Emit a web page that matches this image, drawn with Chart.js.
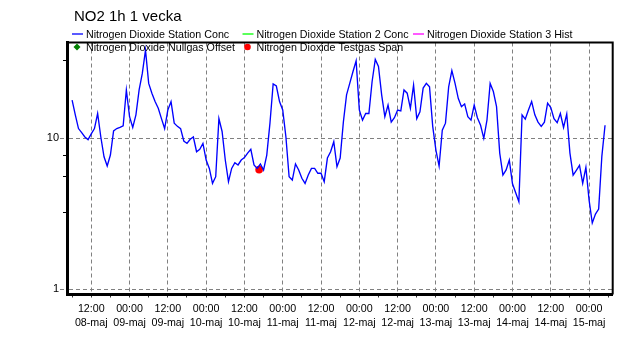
<!DOCTYPE html>
<html>
<head>
<meta charset="utf-8">
<title>NO2 1h 1 vecka</title>
<script src="https://cdn.jsdelivr.net/npm/chart.js@4.4.0/dist/chart.umd.min.js"></script>
<style>
  html, body { margin: 0; padding: 0; background: #fff; }
  #wrap { width: 633px; height: 338px; }
</style>
</head>
<body>
<div id="wrap"><canvas id="no2Chart" width="633" height="338"></canvas></div>
<script>
const chartTitle = "NO2 1h 1 vecka";

const seriesNames = [
  "Nitrogen Dioxide Station Conc",
  "Nitrogen Dioxide Station 2 Conc",
  "Nitrogen Dioxide Station 3 Hist",
  "Nitrogen Dioxide Nullgas Offset",
  "Nitrogen Dioxide Testgas Span"
];

// hours are counted from 08-maj 00:00; first hourly value is 08-maj 06:00
const startHour = 6;
const stationConc = [
  17.9, 14.3, 11.6, 10.9, 10.2, 9.8, 10.7, 11.6, 14.6, 10.2, 7.55, 6.55,
  7.75, 11.2, 11.6, 11.8, 12.1, 20.9, 13.9, 11.8, 14.3, 20.9, 26.9, 38.4,
  23.1, 19.9, 17.5, 15.8, 13.5, 11.6, 15.4, 17.5, 12.6, 12.0, 11.6, 9.6,
  9.25, 9.85, 10.2, 8.15, 8.45, 9.25, 7.18, 6.32, 5.03, 5.57, 13.5, 11.1,
  7.18, 5.16, 6.32, 6.9, 6.66, 7.18, 7.45, 7.98, 8.45, 6.66, 6.32, 6.76,
  6.17, 7.75, 12.6, 22.9, 22.2, 17.5, 15.4, 10.2, 5.57, 5.29, 6.76, 6.17,
  5.44, 5.03, 5.71, 6.32, 6.32, 5.87, 5.87, 5.16, 7.4, 8.15, 9.5, 6.48,
  7.4, 12.8, 19.4, 23.1, 27.6, 32.6, 15.4, 13.2, 14.6, 14.6, 23.7, 33.3,
  29.9, 19.4, 13.9, 16.6, 12.8, 13.7, 15.4, 15.2, 20.9, 19.9, 15.8, 22.5,
  13.5, 15.0, 21.5, 23.1, 21.9, 12.0, 8.36, 6.55, 11.3, 12.6, 21.9, 28.1,
  23.1, 18.4, 16.2, 16.9, 13.9, 13.2, 16.6, 13.7, 12.2, 10.0, 13.2, 23.1,
  20.4, 16.2, 7.98, 5.71, 6.17, 7.18, 5.0, 4.36, 3.8, 14.3, 13.4, 15.4,
  17.5, 14.3, 12.8, 12.0, 12.8, 17.1, 16.0, 13.5, 12.7, 14.6, 11.8, 14.5,
  7.98, 5.71, 6.14, 6.62, 5.03, 6.42, 3.9, 2.75, 3.15, 3.4, 7.6, 12.2
];
const station2Conc = [];
const station3Hist = [];
const nullgasOffset = [];
const testgasSpanHours = [64.6];
const testgasSpanValues = [6.2];

// x axis: labelled ticks every 12 h, plain tick marks in between
const xMajorHours = [12, 24, 36, 48, 60, 72, 84, 96, 108, 120, 132, 144, 156, 168];
const xMinorHours = [6, 18, 30, 42, 54, 66, 78, 90, 102, 114, 126, 138, 150, 162, 174];
const xLabelTimes = ["12:00", "00:00", "12:00", "00:00", "12:00", "00:00", "12:00",
                     "00:00", "12:00", "00:00", "12:00", "00:00", "12:00", "00:00"];
const xLabelDays = ["08-maj", "09-maj", "09-maj", "10-maj", "10-maj", "11-maj", "11-maj",
                    "12-maj", "12-maj", "13-maj", "13-maj", "14-maj", "14-maj", "15-maj"];

// y axis (log)
const yMajorTicks = [1, 10];
const yMinorTicks = [3.25, 5.55, 7.75, 33];

const FONT = "Arial, 'Liberation Sans', sans-serif";
const GRID_GRAY = "#808080";

const isXMajor = (v) => xMajorHours.includes(v);
const isYMajor = (v) => yMajorTicks.includes(v);

const headerPlugin = {
  id: "header",
  afterDraw(chart) {
    const ctx = chart.ctx;
    const area = chart.chartArea;
    ctx.save();

    // top and right frame lines
    ctx.strokeStyle = "#000";
    ctx.lineWidth = 2;
    ctx.beginPath();
    ctx.moveTo(area.left, area.top);
    ctx.lineTo(area.right, area.top);
    ctx.lineTo(area.right, area.bottom);
    ctx.stroke();

    // title
    ctx.fillStyle = "#000";
    ctx.font = "15px " + FONT;
    ctx.textBaseline = "alphabetic";
    ctx.fillText(chartTitle, 74, 21);

    // legend, three columns, two rows
    const cols = [72, 242.5, 413];
    const rows = [37.5, 51];
    ctx.font = "10.7px " + FONT;
    chart.data.datasets.forEach((ds, i) => {
      const x = cols[i % 3];
      const y = rows[Math.floor(i / 3)];
      if (ds.showLine === false) {
        ctx.fillStyle = ds.backgroundColor;
        ctx.beginPath();
        if (ds.pointStyle === "rectRot") {
          ctx.moveTo(x + 5, y - 7.5);
          ctx.lineTo(x + 8.5, y - 4);
          ctx.lineTo(x + 5, y - 0.5);
          ctx.lineTo(x + 1.5, y - 4);
          ctx.closePath();
        } else {
          ctx.arc(x + 5, y - 4, 3.3, 0, Math.PI * 2);
        }
        ctx.fill();
      } else {
        ctx.strokeStyle = ds.borderColor;
        ctx.lineWidth = 1.3;
        ctx.beginPath();
        ctx.moveTo(x, y - 3.5);
        ctx.lineTo(x + 11, y - 3.5);
        ctx.stroke();
      }
      ctx.fillStyle = "#000";
      ctx.fillText(ds.label, x + 14, y);
    });
    ctx.restore();
  }
};

const ctx = document.getElementById("no2Chart").getContext("2d");
new Chart(ctx, {
  type: "line",
  data: {
    datasets: [
      {
        label: seriesNames[0],
        data: stationConc.map((v, i) => ({ x: startHour + i, y: v })),
        borderColor: "#0000ff",
        borderWidth: 1.35,
        pointRadius: 0,
        tension: 0
      },
      {
        label: seriesNames[1],
        data: station2Conc,
        borderColor: "#00ff00",
        borderWidth: 1.2,
        pointRadius: 0
      },
      {
        label: seriesNames[2],
        data: station3Hist,
        borderColor: "#ff00ff",
        borderWidth: 1.2,
        pointRadius: 0
      },
      {
        label: seriesNames[3],
        data: nullgasOffset,
        showLine: false,
        pointStyle: "rectRot",
        backgroundColor: "#008000",
        borderColor: "#008000",
        pointRadius: 3
      },
      {
        label: seriesNames[4],
        data: testgasSpanHours.map((h, i) => ({ x: h, y: testgasSpanValues[i] })),
        showLine: false,
        pointStyle: "circle",
        backgroundColor: "#ff0000",
        borderColor: "#ff0000",
        pointRadius: 3.8,
        pointBorderWidth: 0
      }
    ]
  },
  options: {
    responsive: false,
    animation: false,
    layout: { padding: { top: 42.5, right: 20.3, left: 0, bottom: 0 } },
    plugins: {
      legend: { display: false },
      title: { display: false },
      tooltip: { enabled: false }
    },
    scales: {
      x: {
        type: "linear",
        position: "bottom",
        min: 4.4,
        max: 175.4,
        afterBuildTicks: (scale) => {
          scale.ticks = xMinorHours.concat(xMajorHours)
            .sort((a, b) => a - b)
            .map((v) => ({ value: v }));
        },
        afterFit: (scale) => { scale.height = 43.5; },
        ticks: {
          autoSkip: false,
          maxRotation: 0,
          minRotation: 0,
          padding: 5,
          color: "#000",
          font: { family: FONT, size: 10.7, lineHeight: 1.25 },
          callback: (value) => {
            const i = xMajorHours.indexOf(value);
            return i < 0 ? "" : [xLabelTimes[i], xLabelDays[i]];
          }
        },
        grid: {
          color: (c) => (c.tick && isXMajor(c.tick.value) ? GRID_GRAY : "rgba(0,0,0,0)"),
          tickColor: "#333",
          tickBorderDash: [],
          tickLength: 3
        },
        border: { display: true, color: "#000", width: 3, dash: [4, 3] }
      },
      y: {
        type: "logarithmic",
        position: "left",
        min: 0.924,
        max: 43.1,
        afterBuildTicks: (scale) => {
          scale.ticks = yMajorTicks.concat(yMinorTicks)
            .sort((a, b) => a - b)
            .map((v) => ({ value: v }));
        },
        afterFit: (scale) => { scale.width = 67; },
        ticks: {
          autoSkip: false,
          padding: 1,
          color: "#000",
          font: { family: FONT, size: 11 },
          callback: (value) => (isYMajor(value) ? String(value) : "")
        },
        grid: {
          color: (c) => (c.tick && isYMajor(c.tick.value) ? GRID_GRAY : "rgba(0,0,0,0)"),
          tickColor: (c) => (c.tick && isYMajor(c.tick.value) ? GRID_GRAY : "#000"),
          tickBorderDash: (c) => (c.tick && isYMajor(c.tick.value) ? [4, 3] : [0, 3, 10]),
          tickLength: 7
        },
        border: { display: true, color: "#000", width: 3, dash: [4, 3] }
      }
    }
  },
  plugins: [headerPlugin]
});
</script>
</body>
</html>
